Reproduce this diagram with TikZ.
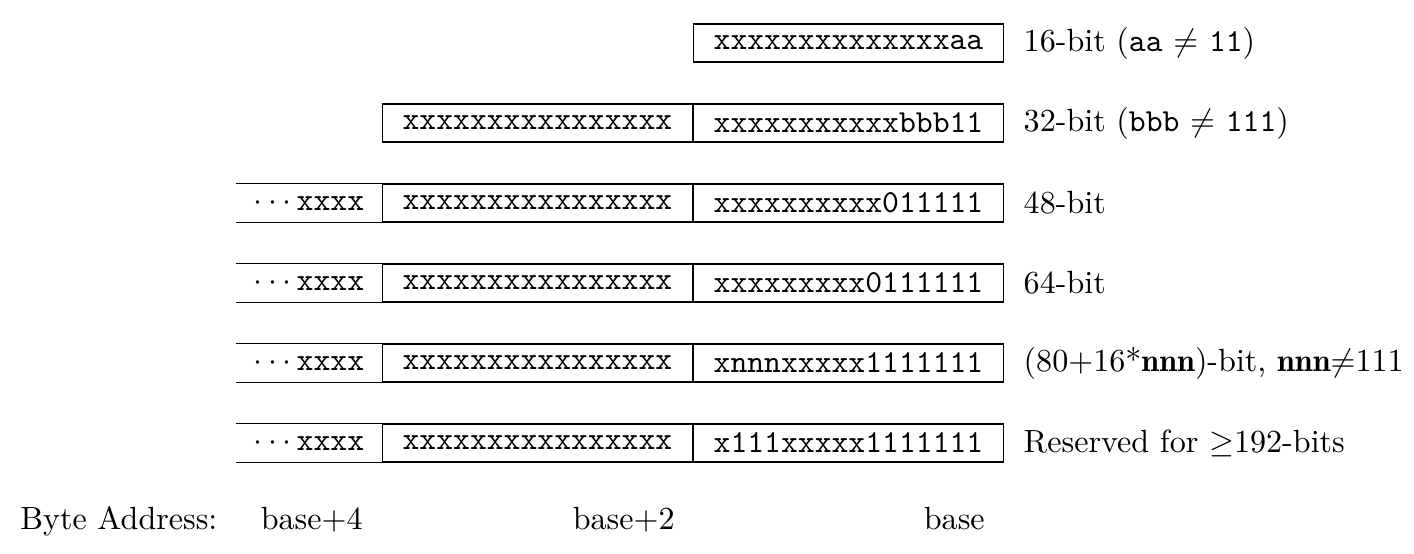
\documentclass[tikz,border=0pt]{standalone}
\usepackage{amsmath}
\usepackage{amssymb}
\usetikzlibrary{positioning}

\newcommand{\demi}[1]{{\fontseries{b}\selectfont #1}}

\tikzset{
  field/.style={draw, minimum width=96.5pt, minimum height=11.8pt, inner sep=0pt, font=\ttfamily},
  openfield/.style={minimum width=45pt, minimum height=11.8pt, inner sep=0pt, font=\ttfamily},
  sizelabel/.style={right=2.6pt of #1},
  addr/.style={anchor=base east}
}

\begin{document}
\begin{tikzpicture}[x=0.3115pt, y=-0.3115pt]

\useasboundingbox (0, 0) rectangle (1414, 554);

% lowest parcel of each row
\node[field] (r1) at (848.5, 43) {xxxxxxxxxxxxxxaa};
\node[field] (r2) at (848.5, 123) {xxxxxxxxxxxbbb11};
\node[field] (r3) at (848.5, 203) {xxxxxxxxxx011111};
\node[field] (r4) at (848.5, 283) {xxxxxxxxx0111111};
\node[field] (r5) at (848.5, 363) {xnnnxxxxx1111111};
\node[field] (r6) at (848.5, 443) {x111xxxxx1111111};

% second parcel
\foreach \i in {2, ..., 6}{
\node[field, left=0pt of r\i] (m\i) {xxxxxxxxxxxxxxxx};
}

% open-ended upper parcels
\foreach \i in {3, ..., 6}{
\node[openfield, left=0pt of m\i] (u\i) {$\cdots$xxxx};
\draw (u\i.north west) -- (m\i.north west);
\draw (u\i.south west) -- (m\i.south west);
}

\node[sizelabel=r1] (s1) {16-bit (\texttt{aa} $\neq$ \texttt{11})};
\node[sizelabel=r2] (s2) {32-bit (\texttt{bbb} $\neq$ \texttt{111})};
\node[sizelabel=r3] (s3) {48-bit};
\node[sizelabel=r4] (s4) {64-bit};
\node[sizelabel=r5] (s5) {(80+16*\demi{nnn})-bit, \demi{nnn}$\neq$111};
\node[sizelabel=r6] (s6) {Reserved for $\geq$192-bits};

\node[anchor=base west] (ba) at (9, 530) {Byte Address:};
\node[addr] (b4) at (374, 530) {base+4};
\node[addr] (b2) at (686, 530) {base+2};
\node[addr] (b0) at (996, 530) {base};

\end{tikzpicture}
\end{document}
